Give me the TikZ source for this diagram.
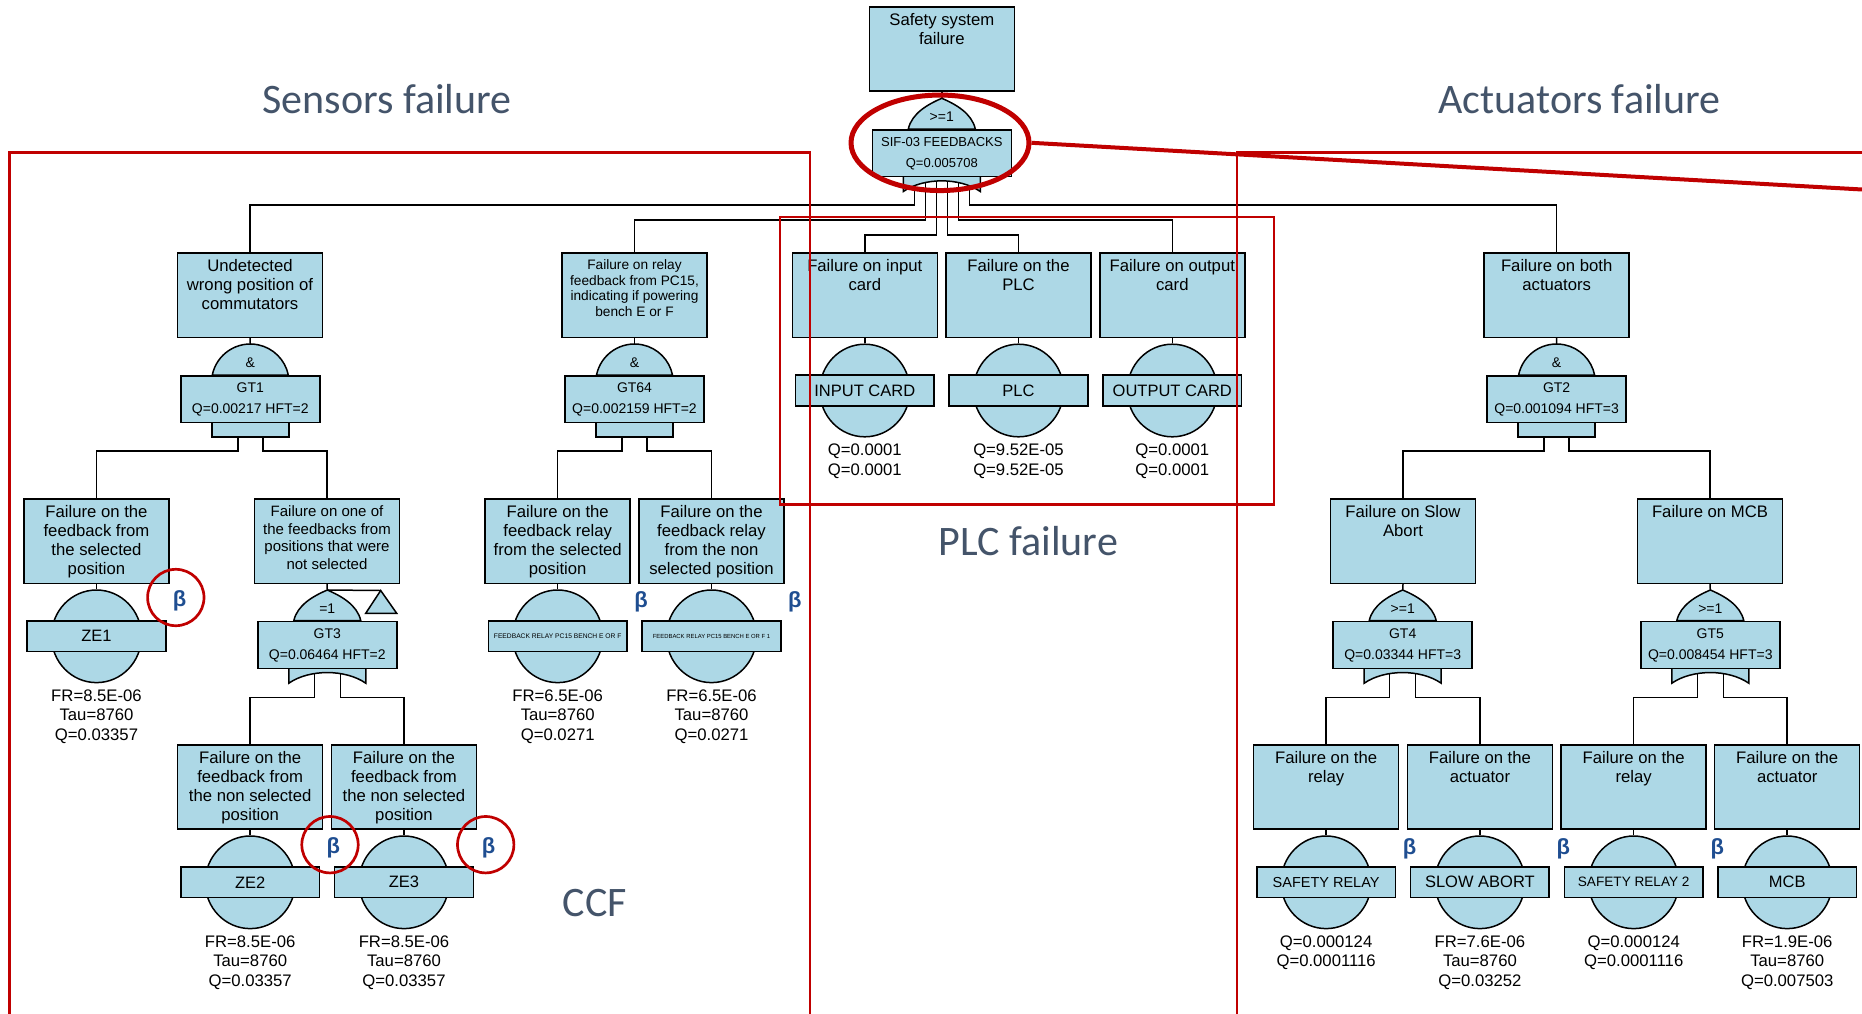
\documentclass[tikz,border=0pt]{standalone}
\usepackage{fontspec}
\setmainfont{Liberation Sans}
\newfontfamily\titlefont{Carlito}
\usetikzlibrary{shapes.geometric}

\definecolor{evfill}{RGB}{173,216,230}
\definecolor{ccfred}{RGB}{192,0,0}
\definecolor{titlegray}{RGB}{68,84,106}
\definecolor{betablue}{RGB}{31,78,145}

\pgfdeclarelayer{paper}
\pgfdeclarelayer{wires}
\pgfsetlayers{paper,wires,main}

\newcommand\fs[2]{\fontsize{#1}{#2}\selectfont}

\tikzset{
  ftbox/.style={draw=black, fill=evfill, line width=0.75pt, minimum width=72.5pt,
    minimum height=42.2pt, inner sep=0pt, anchor=north},
  btext/.style={anchor=north, align=center, inner sep=0pt},
  shapefill/.style={draw=black, fill=evfill, line width=0.75pt},
  gaterect/.style={shapefill, minimum width=69.5pt, minimum height=23.45pt,
    inner sep=0pt, anchor=north},
  gtext/.style={anchor=base, inner sep=0pt, font=\fs{7}{8}},
  evcirc/.style={shapefill, ellipse, minimum width=45pt, minimum height=46.3pt, inner sep=0pt},
  evlabel/.style={shapefill, minimum width=69.3pt, minimum height=15.35pt, inner sep=0pt},
  vals/.style={anchor=north, align=center, inner sep=0pt, font=\fs{8.35}{9.65}},
  wire/.style={draw=black, line width=0.75pt},
  zone/.style={draw=ccfred, line width=1.1pt},
  beta/.style={text=betablue, font=\bfseries\fs{11}{12}, inner sep=0pt},
  betaring/.style={draw=ccfred, line width=1.35pt, circle, minimum size=28.2pt, inner sep=0pt},
  zonetitle/.style={text=titlegray, font=\titlefont\fs{21}{24}, inner sep=0pt},
}

% event box with top-aligned text: name, centre x, top y, font, text
\newcommand\evbox[5]{%
  \node[ftbox] (#1) at (#2,#3) {};
  \node[btext, font=#4] (#1-t) at ([yshift=-3.5pt]#1.north) {#5};
}

% AND gate: name, centre x, dome top y, gate name, probability line
\newcommand\andgate[5]{%
  \path[shapefill] (#2-38,#3+30.7) arc[start angle=191.6, end angle=348.4, radius=38.8] -- cycle;
  \path[shapefill] (#2-38.5,#3+77.6) rectangle (#2+38.5,#3+92.6);
  \node[gaterect] (#1) at (#2,#3+30.7) {};
  \node[gtext] (#1-s) at (#2,#3+23.4) {\&};
  \node[gtext] (#1-a) at (#2,#3+48) {#4};
  \node[gtext] (#1-b) at (#2,#3+69) {#5};
  \coordinate (#1-in) at (#2,#3);
  \coordinate (#1-o1) at (#2-12.5,#3+92.6);
  \coordinate (#1-o2) at (#2+12.5,#3+92.6);
}

% OR-type gate: name, centre x, dome top y, symbol, gate name, probability line, text font
\newcommand\orgate[7]{%
  \path[shapefill] (#2-33.5,#3+30.7) .. controls (#2-30,#3+15) and (#2-14,#3+6) .. (#2,#3)
     .. controls (#2+14,#3+6) and (#2+30,#3+15) .. (#2+33.5,#3+30.7) -- cycle;
  \path[shapefill] (#2-38.5,#3+77.6) -- (#2-38.5,#3+93.2)
     .. controls (#2-18,#3+79) and (#2+18,#3+79) .. (#2+38.5,#3+93.2) -- (#2+38.5,#3+77.6) -- cycle;
  \node[gaterect] (#1) at (#2,#3+30.7) {};
  \node[gtext] (#1-s) at (#2,#3+23.4) {#4};
  \node[gtext, font=#7] (#1-a) at (#2,#3+48.4) {#5};
  \node[gtext, font=#7] (#1-b) at (#2,#3+69) {#6};
  \coordinate (#1-in) at (#2,#3);
  \coordinate (#1-o1) at (#2-13,#3+77.6);
  \coordinate (#1-o2) at (#2+13,#3+77.6);
}

% basic event: name, centre x, centre y, label font, label, parameter lines
\newcommand\basicev[6]{%
  \node[evcirc] (#1) at (#2,#3) {};
  \node[evlabel, font=#4] (#1-l) at (#2,#3) {#5};
  \node[vals] (#1-v) at (#2,#3+53.2) {#6};
}

\newcommand\bigtxt{\fs{8.35}{9.5}}
\newcommand\lbltxt{\fs{8.25}{9}}

\begin{document}
\begin{tikzpicture}[x=0.5pt,y=-0.5pt]
\useasboundingbox (0,0) rectangle (1862,1013);
\begin{pgfonlayer}{paper}
  \fill[white] (0,0) rectangle (1862,1013);
\end{pgfonlayer}
\clip (0,0) rectangle (1862,1013);

% junction levels of the connectors
\coordinate (j1) at (0,205);
\coordinate (j2) at (0,220);
\coordinate (j3) at (0,235);
\coordinate (j4) at (0,451);
\coordinate (j5) at (0,697.7);

% ---------------- top event ----------------
\evbox{top}{941.8}{6}{\bigtxt}{Safety system\\failure}
\orgate{g0}{941.8}{98.3}{>=1}{SIF-03 FEEDBACKS}{Q=0.005708}{\fs{6.5}{7.5}}

% ---------------- first level ----------------
\evbox{u1}{250}{252.3}{\bigtxt}{Undetected\\wrong position of\\commutators}
\evbox{rf}{634.5}{252.3}{\fs{6.85}{7.75}}{Failure on relay\\feedback from PC15,\\indicating if powering\\bench E or F}
\evbox{ic}{864.8}{252.3}{\bigtxt}{Failure on input\\card}
\evbox{pl}{1018.5}{252.3}{\bigtxt}{Failure on the\\PLC}
\evbox{oc}{1172.3}{252.3}{\bigtxt}{Failure on output\\card}
\evbox{ac}{1556.7}{252.3}{\bigtxt}{Failure on both\\actuators}

\andgate{gt1}{250.3}{344.3}{GT1}{Q=0.00217 HFT=2}
\andgate{gt64}{634.5}{344.3}{GT64}{Q=0.002159 HFT=2}
\andgate{gt2}{1556.6}{344.3}{GT2}{Q=0.001094 HFT=3}

\basicev{inp}{864.8}{390.5}{\lbltxt}{INPUT CARD}{Q=0.0001\\Q=0.0001}
\basicev{plc}{1018.5}{390.5}{\lbltxt}{PLC}{Q=9.52E-05\\Q=9.52E-05}
\basicev{out}{1172.3}{390.5}{\lbltxt}{OUTPUT CARD}{Q=0.0001\\Q=0.0001}

% ---------------- second level ----------------
\evbox{s1}{96.5}{498.3}{\bigtxt}{Failure on the\\feedback from\\the selected\\position}
\evbox{s2}{327}{498.3}{\fs{7.5}{8.75}}{Failure on one of\\the feedbacks from\\positions that were\\not selected}
\evbox{r1}{557.7}{498.3}{\bigtxt}{Failure on the\\feedback relay\\from the selected\\position}
\evbox{r2}{711.5}{498.3}{\bigtxt}{Failure on the\\feedback relay\\from the non\\selected position}
\evbox{sa}{1403}{498.3}{\bigtxt}{Failure on Slow\\Abort}
\evbox{mc}{1710}{498.3}{\bigtxt}{Failure on MCB}

\orgate{gt3}{327.3}{590}{=1}{GT3}{Q=0.06464 HFT=2}{\fs{7}{8}}
\orgate{gt4}{1402.7}{590}{>=1}{GT4}{Q=0.03344 HFT=3}{\fs{7}{8}}
\orgate{gt5}{1710.3}{590}{>=1}{GT5}{Q=0.008454 HFT=3}{\fs{7}{8}}

% transfer symbol beside GT3
\coordinate (xfer) at (380.7,590.5);
\path[shapefill] (xfer) -- (396.7,613.3) -- (365.7,613.3) -- cycle;

\basicev{ze1}{96.5}{636.3}{\lbltxt}{ZE1}{FR=8.5E-06\\Tau=8760\\Q=0.03357}
\basicev{fr1}{557.7}{636.3}{\fs{3.35}{4}}{FEEDBACK RELAY PC15 BENCH E OR F}{FR=6.5E-06\\Tau=8760\\Q=0.0271}
\basicev{fr2}{711.5}{636.3}{\fs{2.95}{3.5}}{FEEDBACK RELAY PC15 BENCH E OR F 1}{FR=6.5E-06\\Tau=8760\\Q=0.0271}

% ---------------- third level ----------------
\evbox{n1}{250.2}{744}{\bigtxt}{Failure on the\\feedback from\\the non selected\\position}
\evbox{n2}{404}{744}{\bigtxt}{Failure on the\\feedback from\\the non selected\\position}
\evbox{a1}{1326.1}{744}{\bigtxt}{Failure on the\\relay}
\evbox{a2}{1479.9}{744}{\bigtxt}{Failure on the\\actuator}
\evbox{a3}{1633.7}{744}{\bigtxt}{Failure on the\\relay}
\evbox{a4}{1787.2}{744}{\bigtxt}{Failure on the\\actuator}

\basicev{ze2}{250.2}{882.3}{\lbltxt}{ZE2}{FR=8.5E-06\\Tau=8760\\Q=0.03357}
\basicev{ze3}{404}{882.3}{\lbltxt}{ZE3}{FR=8.5E-06\\Tau=8760\\Q=0.03357}
\basicev{sr1}{1326.1}{882.3}{\fs{7.25}{8}}{SAFETY RELAY}{Q=0.000124\\Q=0.0001116}
\basicev{sab}{1479.9}{882.3}{\lbltxt}{SLOW ABORT}{FR=7.6E-06\\Tau=8760\\Q=0.03252}
\basicev{sr2}{1633.7}{882.3}{\fs{6.8}{7.5}}{SAFETY RELAY 2}{Q=0.000124\\Q=0.0001116}
\basicev{mcb}{1787.2}{882.3}{\lbltxt}{MCB}{FR=1.9E-06\\Tau=8760\\Q=0.007503}

% ---------------- connectors ----------------
\begin{pgfonlayer}{wires}
  \draw[wire] (top.south) -- (g0-in);
  \draw[wire] (g0.south) ++(-27.5,0) |- (u1.north |- j1) -- (u1.north);
  \draw[wire] (g0.south) ++(27.5,0) |- (ac.north |- j1) -- (ac.north);
  \draw[wire] (g0.south) ++(-16.5,0) |- (rf.north |- j2) -- (rf.north);
  \draw[wire] (g0.south) ++(16.5,0) |- (oc.north |- j2) -- (oc.north);
  \draw[wire] (g0.south) ++(-5.5,0) |- (ic.north |- j3) -- (ic.north);
  \draw[wire] (g0.south) ++(5.5,0) |- (pl.north |- j3) -- (pl.north);

  \draw[wire] (u1.south) -- (gt1-in);
  \draw[wire] (rf.south) -- (gt64-in);
  \draw[wire] (ac.south) -- (gt2-in);
  \draw[wire] (ic.south) -- (inp.north);
  \draw[wire] (pl.south) -- (plc.north);
  \draw[wire] (oc.south) -- (out.north);

  \draw[wire] (gt1-o1) |- (s1.north |- j4) -- (s1.north);
  \draw[wire] (gt1-o2) |- (s2.north |- j4) -- (s2.north);
  \draw[wire] (gt64-o1) |- (r1.north |- j4) -- (r1.north);
  \draw[wire] (gt64-o2) |- (r2.north |- j4) -- (r2.north);
  \draw[wire] (gt2-o1) |- (sa.north |- j4) -- (sa.north);
  \draw[wire] (gt2-o2) |- (mc.north |- j4) -- (mc.north);

  \draw[wire] (s1.south) -- (ze1.north);
  \draw[wire] (s2.south) -- (gt3-in) -- (xfer);
  \draw[wire] (r1.south) -- (fr1.north);
  \draw[wire] (r2.south) -- (fr2.north);
  \draw[wire] (sa.south) -- (gt4-in);
  \draw[wire] (mc.south) -- (gt5-in);

  \draw[wire] (gt3-o1) |- (n1.north |- j5) -- (n1.north);
  \draw[wire] (gt3-o2) |- (n2.north |- j5) -- (n2.north);
  \draw[wire] (gt4-o1) |- (a1.north |- j5) -- (a1.north);
  \draw[wire] (gt4-o2) |- (a2.north |- j5) -- (a2.north);
  \draw[wire] (gt5-o1) |- (a3.north |- j5) -- (a3.north);
  \draw[wire] (gt5-o2) |- (a4.north |- j5) -- (a4.north);

  \draw[wire] (n1.south) -- (ze2.north);
  \draw[wire] (n2.south) -- (ze3.north);
  \draw[wire] (a1.south) -- (sr1.north);
  \draw[wire] (a2.south) -- (sab.north);
  \draw[wire] (a3.south) -- (sr2.north);
  \draw[wire] (a4.south) -- (mcb.north);
\end{pgfonlayer}

% ---------------- common-cause markers ----------------
\node[betaring] (br1) at (175.8,597.5) {};
\node[beta] (bt1) at (179.5,600.6) {β};
\node[betaring] (br2) at (330,844.7) {};
\node[beta] (bt2) at (333.3,847.7) {β};
\node[betaring] (br3) at (485.7,844.7) {};
\node[beta] (bt3) at (488.5,847.7) {β};
\node[beta] (bt4) at (641.2,601.7) {β};
\node[beta] (bt5) at (794.8,601.7) {β};
\node[beta] (bt6) at (1409.6,848.3) {β};
\node[beta] (bt7) at (1563.4,848.3) {β};
\node[beta] (bt8) at (1717.4,848.3) {β};

% ---------------- zones ----------------
\draw[zone] (9.5,1030) -- (9.5,152.5) -- (810,152.5) -- (810,1030);
\draw[zone] (1236.7,1030) -- (1236.7,152.5) -- (1880,152.5);
\draw[zone] (780,217.3) rectangle (1273.8,504.5);

\node[draw=ccfred, line width=2.5pt, ellipse, minimum width=89pt, minimum height=47.75pt,
      inner sep=0pt] (hl) at (940,142.8) {};
\coordinate (hlend) at (1880,190.5);
\draw[ccfred, line width=2pt] (hl.east) -- (hlend);

\node[zonetitle] (tsens) at (387,98.6) {Sensors failure};
\node[zonetitle] (tact) at (1579.4,98.6) {Actuators failure};
\node[zonetitle] (tplc) at (1028.4,541.5) {PLC failure};
\node[zonetitle] (tccf) at (595,902.5) {CCF};

\end{tikzpicture}
\end{document}
